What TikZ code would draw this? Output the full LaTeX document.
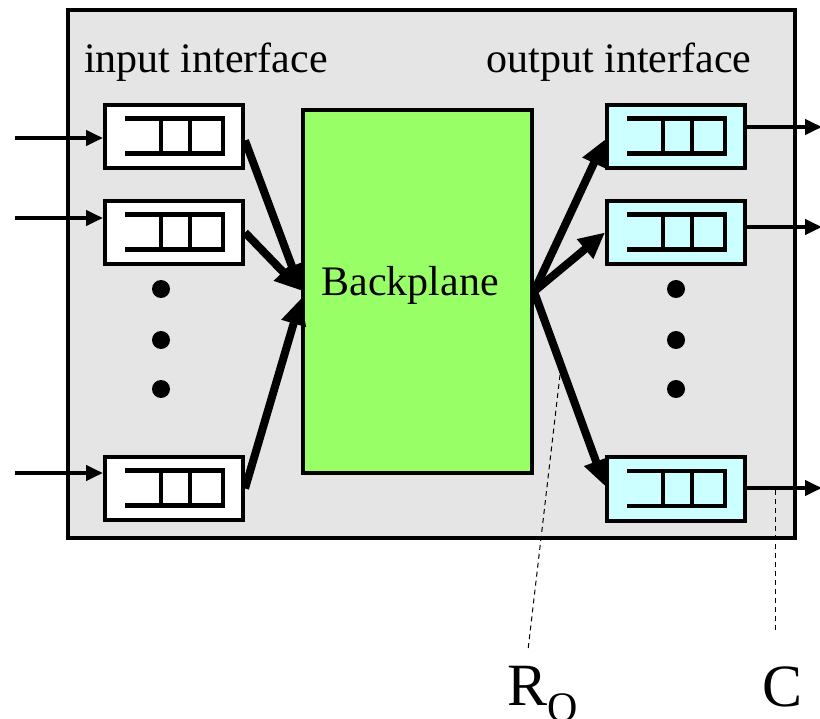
\documentclass[tikz,border=0pt]{standalone}
\usepackage{fontspec}
\setmainfont{Liberation Serif}
\usetikzlibrary{arrows.meta,calc}
\definecolor{panel}{HTML}{E5E5E5}
\definecolor{bpgreen}{HTML}{99FF66}
\definecolor{outcyan}{HTML}{CCFFFF}
\tikzset{
  qbox/.style={draw=black, line width=4pt, minimum width=138pt, minimum height=63pt, inner sep=0pt},
  inbox/.style={qbox, fill=white},
  outbox/.style={qbox, fill=outcyan},
  thin arrow/.style={line width=4pt, -{Triangle[length=17pt,width=15pt]}},
  thick arrow/.style={line width=8pt, -{Triangle[length=26pt,width=24pt]}},
  dotmark/.style={circle, fill=black, minimum size=18pt, inner sep=0pt},
  lbl/.style={font=\fontsize{42}{48}\selectfont, inner sep=0pt, anchor=base},
  big/.style={font=\fontsize{60}{66}\selectfont, inner sep=0pt, anchor=base},
  leader/.style={line width=1pt, dash pattern=on 5pt off 4pt}
}
\newcommand{\qsym}[1]{%
  \draw[line width=4.5pt] ($(#1.center)+(-49pt,-17pt)$) -- ++(98pt,0) -- ++(0,35pt) -- ++(-98pt,0);
  \draw[line width=4.5pt] ($(#1.center)+(-13pt,-17pt)$) -- ++(0,35pt);
  \draw[line width=4.5pt] ($(#1.center)+(16pt,-17pt)$) -- ++(0,35pt);
}
\begin{document}
\begin{tikzpicture}[x=1pt,y=-1pt]
\useasboundingbox (0,0) rectangle (820,719);
% outer panel
\node[draw=black, line width=4pt, fill=panel, minimum width=727pt, minimum height=528pt, inner sep=0pt] (panel) at (431.5,274) {};
% labels
\node[lbl] (inlbl) at (206,73) {input interface};
\node[lbl] (outlbl) at (619,73) {output interface};
% backplane
\node[draw=black, line width=4pt, fill=bpgreen, minimum width=229pt, minimum height=363pt, inner sep=0pt] (bp) at (417.5,291.5) {};
\node[lbl] (bptext) at (410,296) {Backplane};
% input interfaces
\node[inbox] (in1) at (174,136.5) {};
\node[inbox] (in2) at (174,232.5) {};
\node[inbox] (in3) at (174,488.5) {};
% output interfaces
\node[outbox] (out1) at (676,136.5) {};
\node[outbox] (out2) at (676,232.5) {};
\node[outbox] (out3) at (676,489) {};
\qsym{in1}\qsym{in2}\qsym{in3}
\qsym{out1}\qsym{out2}\qsym{out3}
% dots
\node[dotmark] (ld1) at (161,289) {};
\node[dotmark] (ld2) at (161,340) {};
\node[dotmark] (ld3) at (161,389) {};
\node[dotmark] (rd1) at (676,289) {};
\node[dotmark] (rd2) at (676,340) {};
\node[dotmark] (rd3) at (676,389) {};
% input thin arrows
\coordinate (a1) at (15,138);
\coordinate (a2) at (15,218);
\coordinate (a3) at (15,473);
\draw[thin arrow] (a1) -- (in1.west |- a1);
\draw[thin arrow] (a2) -- (in2.west |- a2);
\draw[thin arrow] (a3) -- (in3.west |- a3);
% output thin arrows
\coordinate (b1) at (822,127);
\coordinate (b2) at (822,227);
\coordinate (b3) at (822,488);
\draw[thin arrow] (out1.east |- b1) -- (b1);
\draw[thin arrow] (out2.east |- b2) -- (b2);
\draw[thin arrow] (out3.east |- b3) -- (b3);
% thick arrows into backplane
\draw[thick arrow] ([yshift=-4pt]in1.east) -- ([yshift=1pt]bp.west);
\draw[thick arrow] (in2.east) -- ([yshift=1pt]bp.west);
\draw[thick arrow] (in3.east) -- ([yshift=-7pt]bp.west);
% thick arrows out of backplane
\draw[thick arrow] (bp.east) -- ([yshift=-3pt]out1.west);
\draw[thick arrow] (bp.east) -- (out2.west);
\draw[thick arrow] (bp.east) -- ([yshift=3pt]out3.west);
% leader labels
\node[big] (ro) at (543,705) {R\raisebox{-16pt}{\fontsize{42}{42}\selectfont O}};
\node[big] (cl) at (783,706) {C};
\coordinate (roa) at (560,375);
\coordinate (rob) at (528,650);
\coordinate (ca) at (775,490);
\coordinate (cb) at (775,633);
\draw[leader] (roa) -- (rob);
\draw[leader] (ca) -- (cb);
\end{tikzpicture}
\end{document}
